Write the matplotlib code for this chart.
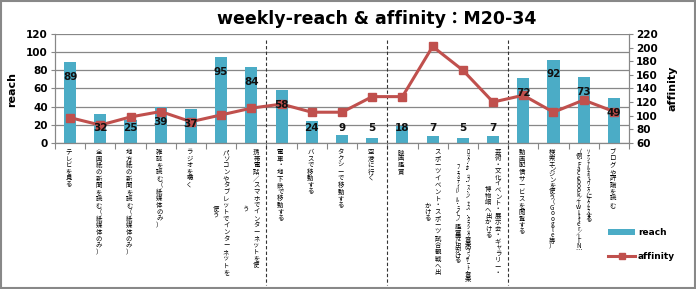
import unicodedata
import numpy as np
import matplotlib
matplotlib.use('Agg')
import matplotlib.pyplot as plt
from matplotlib.patches import Patch, Rectangle
from matplotlib.lines import Line2D

plt.rcParams['font.family'] = ['DejaVu Sans', 'Noto Sans CJK JP']

# data
labels = [
    ['テレビを見る'],
    ['全国紙の新聞を読む（紙媒体のみ）'],
    ['地方紙の新聞を読む（紙媒体のみ）'],
    ['雑誌を読む（紙媒体のみ）'],
    ['ラジオを聴く'],
    ['パソコンやタブレットでインターネットを', '使う'],
    ['携帯電話／スマホでインターネットを使', 'う'],
    ['電車・地下鉄で移動する'],
    ['バスで移動する'],
    ['タクシーで移動する'],
    ['空港に行く'],
    ['映画鑑賞'],
    ['スポーツイベント・スポーツ試合観戦へ出', 'かける'],
    ['ﾛｯｸ･ﾎﾟｯﾌﾟｽ･ｼﾞｬｽﾞ･ｸﾗｼｯｸ音楽のｺﾝｻｰﾄ･音楽', 'ﾌｪｽﾃｨﾊﾞﾙ･ﾗｲﾌﾞ鑑賞等に出かける'],
    ['芸術・文化イベント・展示会・ギャラリー・', '博物館へ出かける'],
    ['動画配信サービスを閲覧する'],
    ['検索エンジンを使う（Google等）'],
    ['ｿｰｼｬﾙﾈｯﾄﾜｰｸにｱｸｾｽする', '（例：Facebook／Twitter／LIN…'],
    ['ブログや評論を読む'],
]
reach = [89, 32, 25, 39, 37, 95, 84, 58, 24, 9, 5, 18, 7, 5, 7, 72, 92, 73, 49]
affinity = [97, 86, 98, 106, 91, 101, 111, 117, 105, 105, 128, 128, 202, 167, 120, 130, 105, 123, 106]
group_ends = [6.5, 10.5, 14.5]

bar_color = '#4BACC6'
line_color = '#C0504D'
grid_color = '#878787'

fig = plt.figure(figsize=(6.96, 2.89), dpi=100)
ax = fig.add_axes([55/696, 1-142.7/289, (629-55)/696, 108.4/289])
ax2 = ax.twinx()

x = np.arange(len(reach))
ax.bar(x, reach, 0.4, color=bar_color, zorder=2)
ax2.plot(x, affinity, color=line_color, lw=2.2, marker='s', ms=6, zorder=3)

ax.set_xlim(-0.5, len(reach)-0.5)
ax.set_ylim(0, 120)
ax.set_yticks(np.arange(0, 121, 20))
ax2.set_ylim(60, 220)
ax2.set_yticks(np.arange(60, 221, 20))
ax.yaxis.grid(True, color=grid_color, lw=0.9, zorder=0)
ax.set_axisbelow(True)

for a in (ax, ax2):
    a.spines['top'].set_visible(False)
    for s in ('left', 'right', 'bottom'):
        a.spines[s].set_color(grid_color)
    a.tick_params(axis='y', colors=grid_color, labelcolor='black', length=3, width=0.8)
    for t in a.get_yticklabels():
        t.set_fontweight('bold')
        t.set_fontsize(7.5)
ax.tick_params(axis='y', pad=2)
ax2.tick_params(axis='y', pad=2)

ax.set_xticks(np.arange(-0.5, len(reach), 1))
ax.set_xticklabels([])
ax.tick_params(axis='x', colors=grid_color, length=4, width=0.8)

# data labels
for i, v in enumerate(reach):
    ax2.text(i, max(v - 16.5, 16), str(v), transform=ax.transData, ha='center', va='center',
             fontsize=7.5, fontweight='bold', color='#111111', zorder=5)

# dividers
for xd in group_ends:
    ax.plot([xd, xd], [0.947, -1.31], transform=ax.get_xaxis_transform(), color='#333333',
            lw=0.8, ls=(0, (3, 2)), clip_on=False, zorder=4)

# vertical category labels (one character per line)
fs = 4.6
full_px = 6.7
top_pt = 5.3 * 72 / 100
dx_pt = 5 * 72 / 100

def is_full(c):
    return unicodedata.east_asian_width(c) in 'FWA'

def col_len(s):
    n = sum(full_px if is_full(c) else full_px*0.5 for c in s)
    return min(n, 128)

cols_txt = []
for i, cols in enumerate(labels):
    lens = [col_len(c) for c in cols]
    for j, c in enumerate(cols):
        if len(cols) == 1:
            off_x = -1
        else:
            off_x = dx_pt if j == 0 else -dx_pt
        off_y = top_pt
        if j == 1 and lens[1] < lens[0]:
            off_y += (lens[0] - lens[1]) / 2 * 72 / 100
        t = ax.annotate('\n'.join(c), xy=(i, 0), xycoords=('data', 'axes fraction'),
                        xytext=(off_x, -off_y), textcoords='offset points',
                        ha='center', va='top', fontsize=fs, linespacing=1.0,
                        family=['Noto Sans CJK JP'], annotation_clip=False)
        cols_txt.append([t, lens[j], 1.0])

# fit each column's line spacing to its target length
for _ in range(3):
    fig.canvas.draw()
    r = fig.canvas.get_renderer()
    for item in cols_txt:
        t, target, ls = item
        h = t.get_window_extent(r).height
        item[2] = ls * target / h
        t.set_linespacing(item[2])

fig.text(377/696, 1-19/289, 'weekly-reach & affinity：M20-34', ha='center', va='center',
         fontsize=12.5, fontweight='bold')
fig.text(12/696, 1-89/289, 'reach', rotation=90, ha='center', va='center',
         fontsize=8, fontweight='bold')
fig.text(672/696, 1-88/289, 'affinity', rotation=90, ha='center', va='center',
         fontsize=8, fontweight='bold')

handles = [Patch(facecolor=bar_color, edgecolor='none'),
           Line2D([], [], color=line_color, lw=2.2, marker='s', ms=5)]
fig.legend(handles, ['reach', 'affinity'], loc='upper left', bbox_to_anchor=(602/696, 1-222/289),
           frameon=False, prop={'weight': 'bold', 'size': 6.5}, handlelength=3.0,
           handleheight=0.6, labelspacing=1.6, handletextpad=0.3, borderpad=0.2)

fig.add_artist(Rectangle((0.001, 0.002), 0.997, 0.995, transform=fig.transFigure,
                         fill=False, edgecolor='#888888', lw=1.5))

fig.savefig('out.png', dpi=100)
